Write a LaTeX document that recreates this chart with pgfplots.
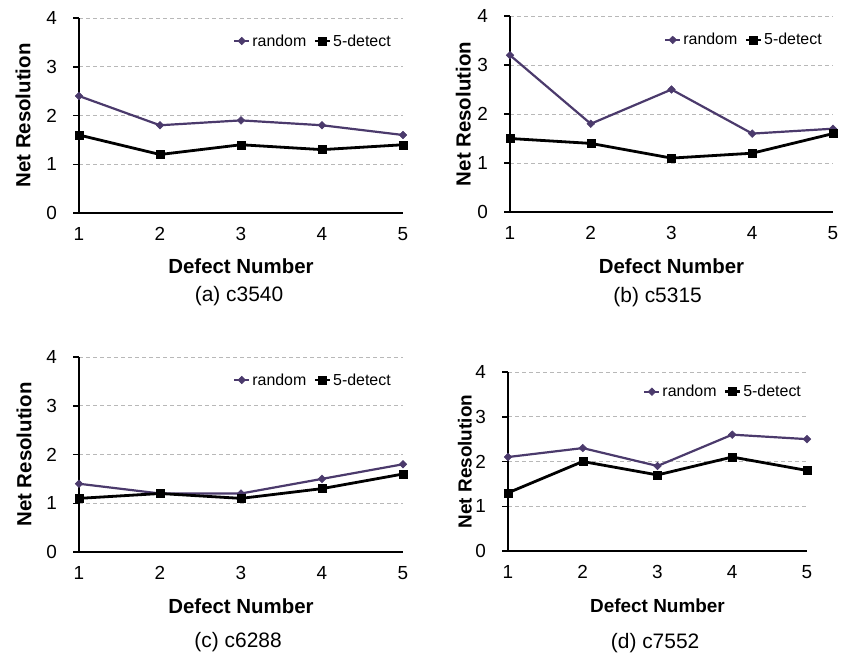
\documentclass[border=0pt]{standalone}
\usepackage{pgfplots}
\pgfplotsset{compat=1.18}
\usepackage{fontspec}
\setmainfont{Liberation Sans}
\definecolor{rndcol}{RGB}{75,58,108}
\newcommand\tickfont{\fontsize{19}{22}\selectfont}
\pgfplotsset{
  panel/.style={
    scale only axis,
    xmin=1, xmax=5, ymin=0, ymax=4,
    axis x line*=bottom, axis y line*=left,
    axis line style={-, line width=2bp, black},
    xtick={1,2,3,4,5}, ytick={0,1,2,3,4},
    tick align=outside,
    major tick length=6bp,
    xtick style={draw=none},
    ytick style={line width=1.5bp, black},
    ymajorgrids,
    grid style={line width=1bp, color=black!28, dash pattern=on 4bp off 3bp},
    /pgf/number format/assume math mode=true,
    xticklabel style={font=\tickfont, anchor=base, inner sep=0pt, yshift=-21bp},
    yticklabel style={font=\tickfont, anchor=east, inner sep=0pt, xshift=-16bp},
    xticklabel={\tickfont\pgfmathprintnumber{\tick}},
    yticklabel={\tickfont\pgfmathprintnumber{\tick}},
    label style={font=\bfseries\fontsize{20.5}{24}\selectfont},
    legend style={draw=none, fill=none, anchor=east, legend columns=2,
      font=\fontsize{16}{18}\selectfont,
      /tikz/every even column/.append style={column sep=5bp},
      inner sep=0pt},
    legend image code/.code={\draw[mark repeat=2,mark phase=2] plot coordinates {(0bp,0bp)(7.5bp,0bp)(15bp,0bp)};},
    clip=false,
    xlabel={Defect Number}, ylabel={Net Resolution},
  },
  rnd/.style={color=rndcol, line width=2.2bp, mark=diamond*, mark size=3.8bp, mark options={solid, fill=rndcol, xscale=1.35, line width=0.5bp}},
  det/.style={color=black, line width=2.8bp, mark=square*, mark size=4bp, mark options={solid, line width=0.5bp}},
}
\newcommand\capfont{\fontsize{21}{24}\selectfont}
\begin{document}
\begin{tikzpicture}
\useasboundingbox (0,0) rectangle (845bp,-657bp);
% (a)
\begin{axis}[panel, at={(79bp,-213bp)}, anchor=south west, width=324bp, height=195bp,
  xlabel style={at={(rel axis cs:0.5,-0.309)}, anchor=base},
  ylabel style={at={(rel axis cs:-0.150,0.5)}, anchor=base},
  legend style={at={(rel axis cs:0.969,0.882)}}]
\addplot[rnd] coordinates {(1,2.4) (2,1.8) (3,1.9) (4,1.8) (5,1.6)};
\addplot[det] coordinates {(1,1.6) (2,1.2) (3,1.4) (4,1.3) (5,1.4)};
\legend{random,5-detect}
\node[anchor=base, font=\capfont] at (rel axis cs:0.494,-0.455) {(a) c3540};
\end{axis}
% (b)
\begin{axis}[panel, at={(510bp,-212bp)}, anchor=south west, width=323bp, height=196bp,
  xlabel style={at={(rel axis cs:0.5,-0.313)}, anchor=base},
  ylabel style={at={(rel axis cs:-0.122,0.5)}, anchor=base},
  legend style={at={(rel axis cs:0.972,0.878)}}]
\addplot[rnd] coordinates {(1,3.2) (2,1.8) (3,2.5) (4,1.6) (5,1.7)};
\addplot[det] coordinates {(1,1.5) (2,1.4) (3,1.1) (4,1.2) (5,1.6)};
\legend{random,5-detect}
\node[anchor=base, font=\capfont] at (rel axis cs:0.457,-0.464) {(b) c5315};
\end{axis}
% (c)
\begin{axis}[panel, at={(79bp,-552bp)}, anchor=south west, width=324bp, height=195bp,
  xlabel style={at={(rel axis cs:0.5,-0.313)}, anchor=base},
  ylabel style={at={(rel axis cs:-0.147,0.5)}, anchor=base},
  legend style={at={(rel axis cs:0.969,0.882)}}]
\addplot[rnd] coordinates {(1,1.4) (2,1.2) (3,1.2) (4,1.5) (5,1.8)};
\addplot[det] coordinates {(1,1.1) (2,1.2) (3,1.1) (4,1.3) (5,1.6)};
\legend{random,5-detect}
\node[anchor=base, font=\capfont] at (rel axis cs:0.491,-0.492) {(c) c6288};
\end{axis}
% (d)
\begin{axis}[panel, at={(508bp,-551bp)}, anchor=south west, width=299bp, height=179bp,
  label style={font=\bfseries\fontsize{19}{22}\selectfont},
  xlabel style={at={(rel axis cs:0.5,-0.346)}, anchor=base},
  ylabel style={at={(rel axis cs:-0.122,0.5)}, anchor=base},
  legend style={at={(rel axis cs:0.987,0.89)}}]
\addplot[rnd] coordinates {(1,2.1) (2,2.3) (3,1.9) (4,2.6) (5,2.5)};
\addplot[det] coordinates {(1,1.3) (2,2.0) (3,1.7) (4,2.1) (5,1.8)};
\legend{random,5-detect}
\node[anchor=base, font=\capfont] at (rel axis cs:0.492,-0.542) {(d) c7552};
\end{axis}
\end{tikzpicture}
\end{document}
